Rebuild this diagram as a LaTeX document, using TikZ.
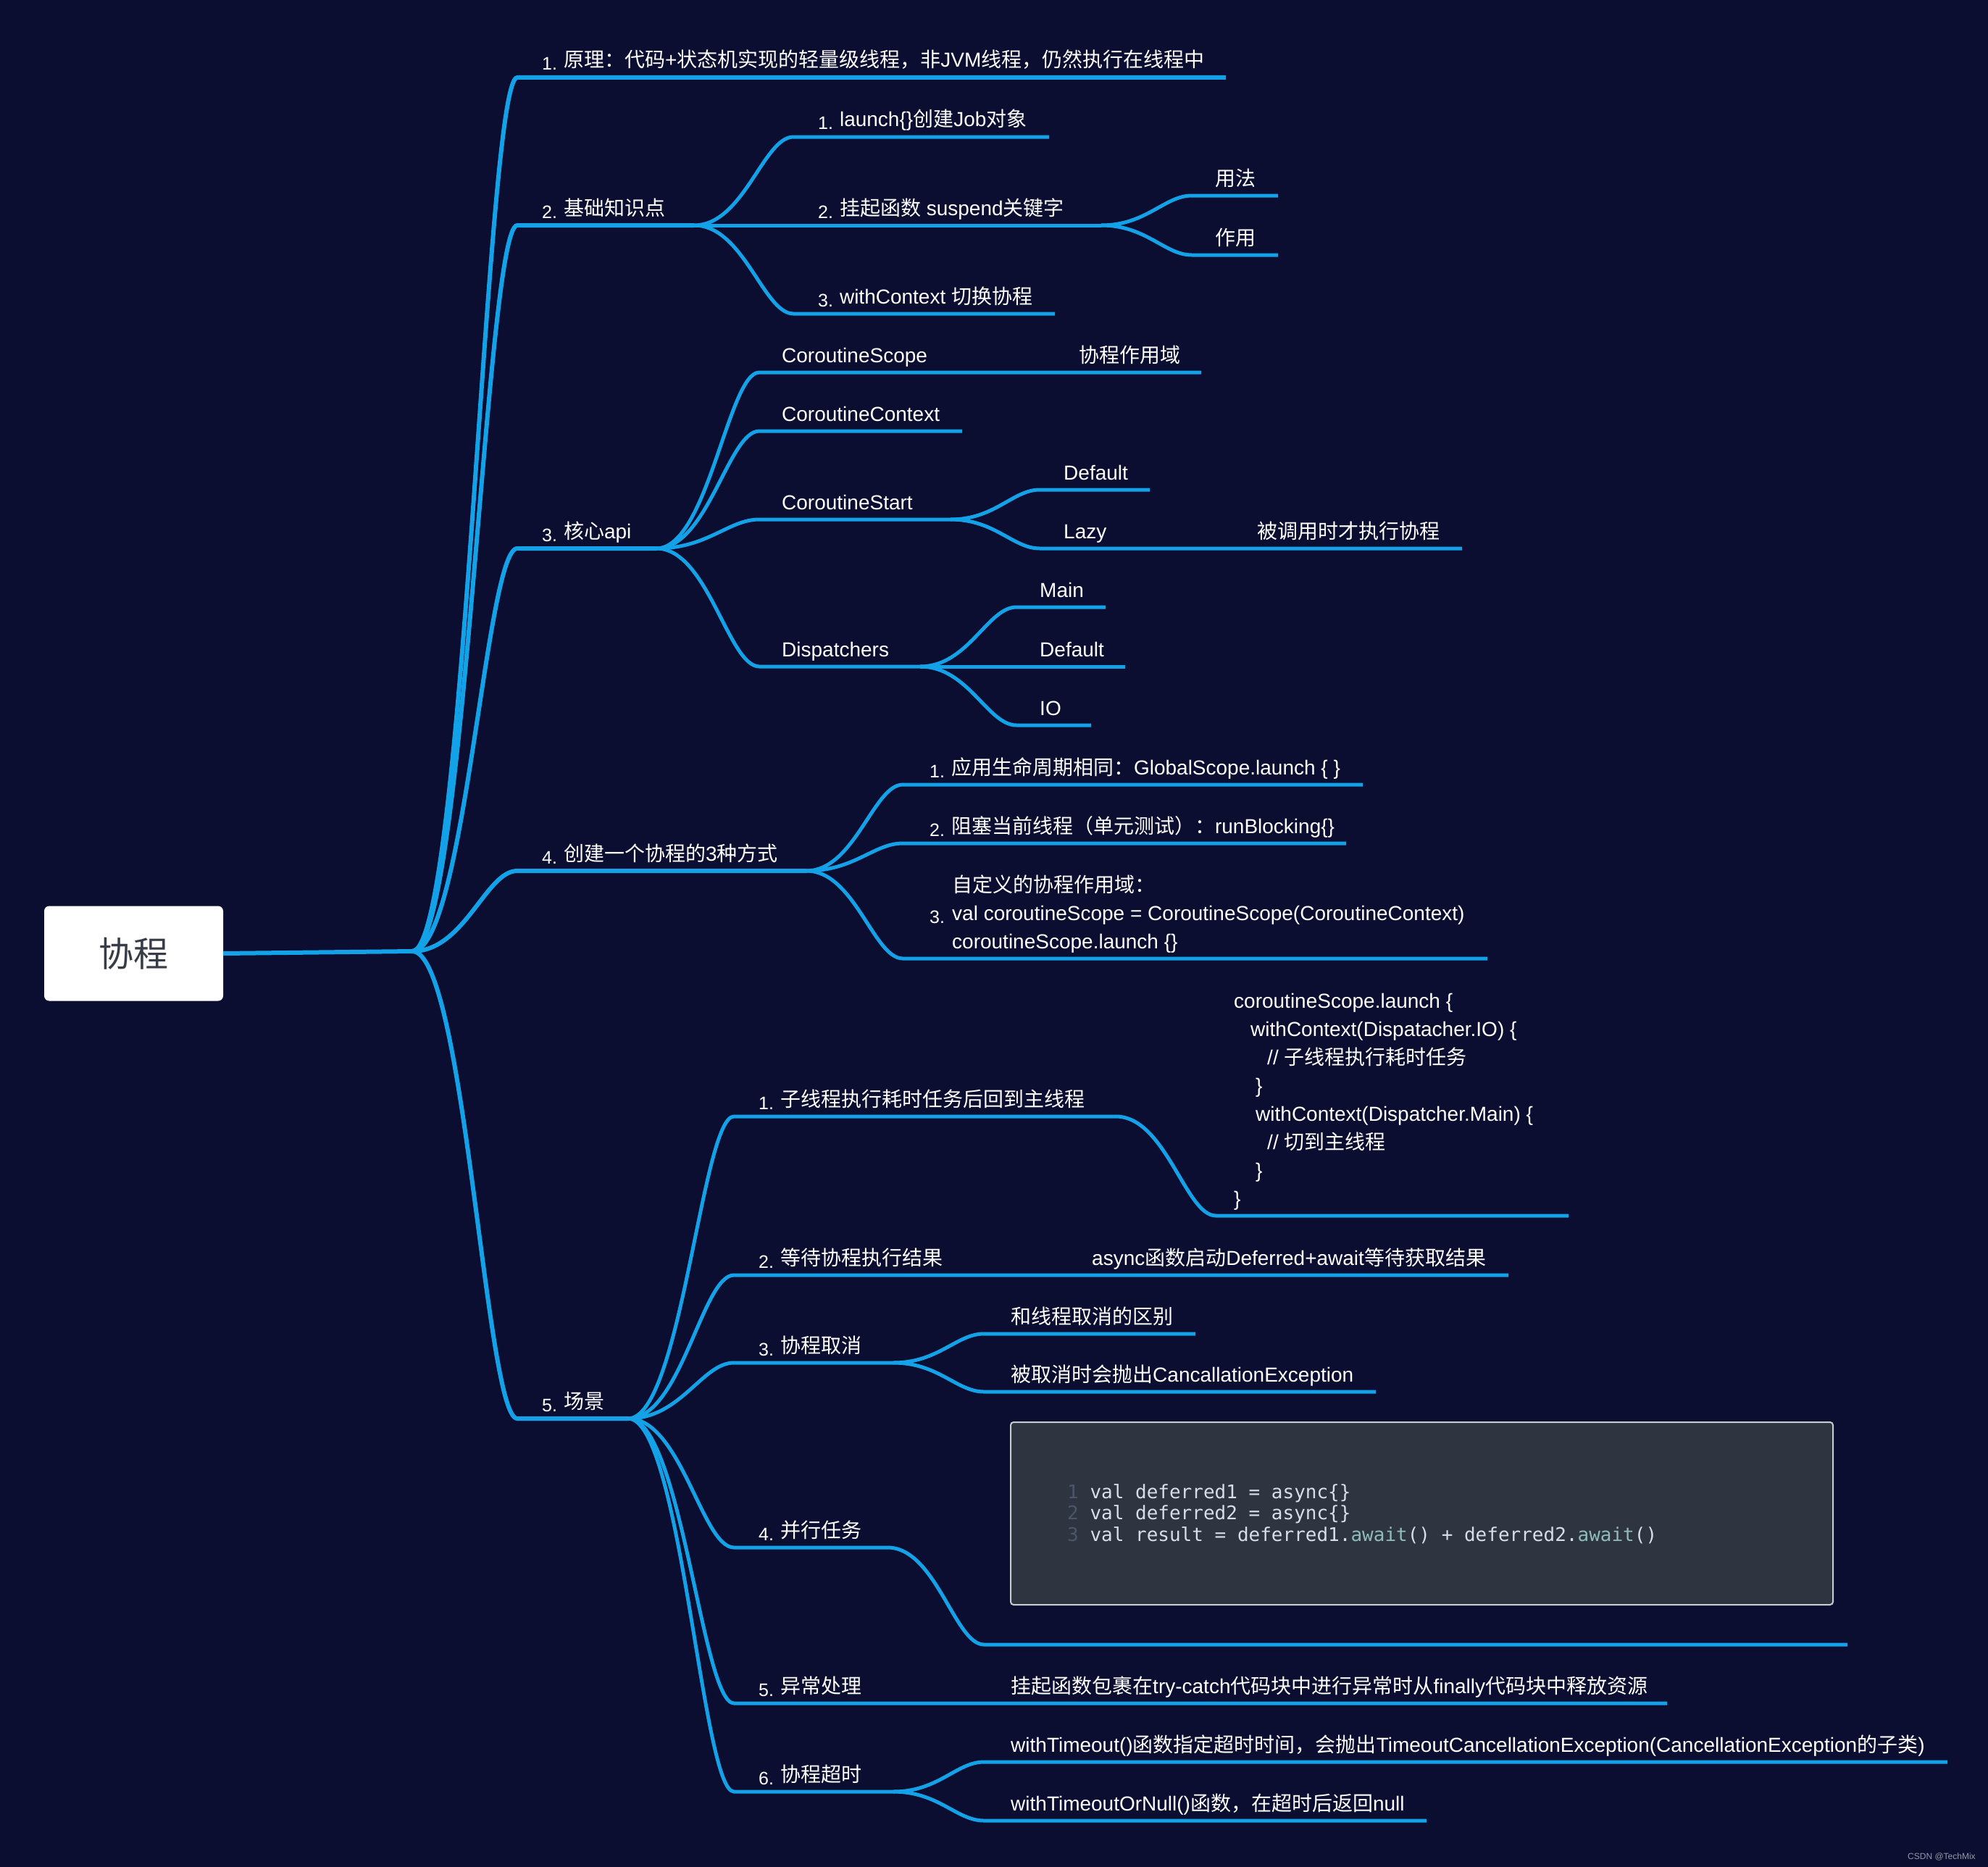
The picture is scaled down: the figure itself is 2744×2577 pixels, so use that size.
\documentclass[tikz,border=0pt]{standalone}
\usepackage{fontspec}
\setmainfont{Liberation Sans}
\newfontfamily\cjkfont{Noto Sans CJK SC}
\newfontfamily\codefont{DejaVu Sans Mono}
\usetikzlibrary{calc}
\XeTeXinterchartokenstate=1
\newXeTeXintercharclass\cjkclass
\makeatletter
\count@="3000
\loop\ifnum\count@<"3040 \XeTeXcharclass\count@=\cjkclass\advance\count@ by 1 \repeat
\count@="4E00
\loop\ifnum\count@<"A000 \XeTeXcharclass\count@=\cjkclass\advance\count@ by 1 \repeat
\count@="FF00
\loop\ifnum\count@<"FFF0 \XeTeXcharclass\count@=\cjkclass\advance\count@ by 1 \repeat
\makeatother
\XeTeXinterchartoks 0 \cjkclass={\cjkfont}
\XeTeXinterchartoks 4095 \cjkclass={\cjkfont}
\XeTeXinterchartoks \cjkclass 0={\rmfamily}
\XeTeXinterchartoks \cjkclass 4095={\rmfamily}
\definecolor{bgc}{RGB}{11,14,48}
\definecolor{lineblue}{RGB}{19,161,232}
\definecolor{roottxt}{RGB}{55,60,70}
\definecolor{codebg}{RGB}{46,52,64}
\definecolor{codeborder}{RGB}{200,204,210}
\definecolor{codefg}{RGB}{216,222,233}
\definecolor{lnum}{RGB}{76,86,106}
\definecolor{kw}{RGB}{143,188,187}
\definecolor{wm}{RGB}{150,152,168}
\newcommand\nlab[1]{\raisebox{-4pt}{\fontsize{25}{25}\selectfont #1}\hspace{9pt}}
\newcommand\mmlink[4]{\draw[#1] let \p1=(#2), \p2=(#3) in (\p1) .. controls ({\x1+0.5*(\x2-\x1)},\y1) and ({\x2-0.3*(\x2-\x1)},\y2) .. (\p2) -- (#4);}
\tikzset{
  lone/.style={draw=lineblue, line width=6pt},
  ltwo/.style={draw=lineblue, line width=5pt},
  lab/.style={text=white, inner sep=0pt, anchor=base west, font=\fontsize{28}{39}\selectfont},
  rootbox/.style={fill=white, rounded corners=7pt, minimum width=247pt, minimum height=131pt, inner sep=0pt, text=roottxt, font=\fontsize{48}{48}\selectfont},
  codeboxst/.style={fill=codebg, draw=codeborder, line width=2pt, rounded corners=4pt, minimum width=1135pt, minimum height=252pt, inner sep=0pt},
  codetxt/.style={text=codefg, inner sep=0pt, anchor=base west, font=\codefont\fontsize{26}{29.5}\selectfont},
}
\begin{document}
\begin{tikzpicture}[x=1pt,y=-1pt]
\useasboundingbox (0,0) rectangle (2744,2577);
\fill[bgc] (0,0) rectangle (2744,2577);

% ---------- coordinates ----------
\coordinate (H0) at (569,1313);
\coordinate (s1) at (714,107);   \coordinate (e1) at (1692,107);
\coordinate (s2) at (714,311);   \coordinate (H2) at (958,311);
\coordinate (s3) at (714,757);   \coordinate (H3) at (906,757);
\coordinate (s4) at (714,1202);  \coordinate (H4) at (1113,1202);
\coordinate (s5) at (714,1958);  \coordinate (H5) at (867,1958);

\coordinate (s21) at (1095,189);  \coordinate (e21) at (1448,189);
\coordinate (s22) at (1095,311);  \coordinate (H22) at (1520,311);
\coordinate (s221) at (1645,270); \coordinate (e221) at (1764,270);
\coordinate (s222) at (1645,352); \coordinate (e222) at (1764,352);
\coordinate (s23) at (1095,433);  \coordinate (e23) at (1456,433);

\coordinate (s31) at (1048,514);  \coordinate (e31) at (1658,514);
\coordinate (s32) at (1048,595);  \coordinate (e32) at (1328,595);
\coordinate (s33) at (1048,717);  \coordinate (H33) at (1312,717);
\coordinate (s331) at (1435,676); \coordinate (e331) at (1587,676);
\coordinate (s332) at (1435,757); \coordinate (e332) at (2018,757);
\coordinate (s34) at (1048,920);  \coordinate (H34) at (1270,920);
\coordinate (s341) at (1403,838); \coordinate (e341) at (1526,838);
\coordinate (s342) at (1403,920); \coordinate (e342) at (1553,920);
\coordinate (s343) at (1403,1001);\coordinate (e343) at (1506,1001);

\coordinate (s41) at (1246,1083); \coordinate (e41) at (1881,1083);
\coordinate (s42) at (1246,1164); \coordinate (e42) at (1858,1164);
\coordinate (s43) at (1246,1323); \coordinate (e43) at (2053,1323);

\coordinate (s51) at (1013,1541); \coordinate (H51) at (1540,1541);
\coordinate (s511) at (1678,1678);\coordinate (e511) at (2165,1678);
\coordinate (s52) at (1013,1760); \coordinate (e52) at (2082,1760);
\coordinate (s53) at (1013,1881); \coordinate (H53) at (1233,1881);
\coordinate (s531) at (1358,1841);\coordinate (e531) at (1650,1841);
\coordinate (s532) at (1358,1921);\coordinate (e532) at (1899,1921);
\coordinate (s54) at (1013,2136); \coordinate (H54) at (1225,2136);
\coordinate (s541) at (1358,2270);\coordinate (e541) at (2550,2270);
\coordinate (s55) at (1013,2351); \coordinate (e55) at (2301,2351);
\coordinate (s56) at (1013,2473); \coordinate (H56) at (1233,2473);
\coordinate (s561) at (1358,2432);\coordinate (e561) at (2688,2432);
\coordinate (s562) at (1358,2513);\coordinate (e562) at (1969,2513);

% ---------- root ----------
\node[rootbox] (root) at (184.5,1316) {协程};
\draw[lone] (root.east) -- (H0);

% ---------- connectors ----------
\mmlink{lone}{H0}{s1}{e1}
\mmlink{lone}{H0}{s2}{H2}
\mmlink{lone}{H0}{s3}{H3}
\mmlink{lone}{H0}{s4}{H4}
\mmlink{lone}{H0}{s5}{H5}

\mmlink{ltwo}{H2}{s21}{e21}
\mmlink{ltwo}{H2}{s22}{H22}
\mmlink{ltwo}{H22}{s221}{e221}
\mmlink{ltwo}{H22}{s222}{e222}
\mmlink{ltwo}{H2}{s23}{e23}

\mmlink{ltwo}{H3}{s31}{e31}
\mmlink{ltwo}{H3}{s32}{e32}
\mmlink{ltwo}{H3}{s33}{H33}
\mmlink{ltwo}{H33}{s331}{e331}
\mmlink{ltwo}{H33}{s332}{e332}
\mmlink{ltwo}{H3}{s34}{H34}
\mmlink{ltwo}{H34}{s341}{e341}
\mmlink{ltwo}{H34}{s342}{e342}
\mmlink{ltwo}{H34}{s343}{e343}

\mmlink{ltwo}{H4}{s41}{e41}
\mmlink{ltwo}{H4}{s42}{e42}
\mmlink{ltwo}{H4}{s43}{e43}

\mmlink{ltwo}{H5}{s51}{H51}
\mmlink{ltwo}{H51}{s511}{e511}
\mmlink{ltwo}{H5}{s52}{e52}
\mmlink{ltwo}{H5}{s53}{H53}
\mmlink{ltwo}{H53}{s531}{e531}
\mmlink{ltwo}{H53}{s532}{e532}
\mmlink{ltwo}{H5}{s54}{H54}
\mmlink{ltwo}{H54}{s541}{e541}
\mmlink{ltwo}{H5}{s55}{e55}
\mmlink{ltwo}{H5}{s56}{H56}
\mmlink{ltwo}{H56}{s561}{e561}
\mmlink{ltwo}{H56}{s562}{e562}

% ---------- level 1 labels ----------
\node[lab] (t1) at (748,93) {\nlab{1.}原理：代码+状态机实现的轻量级线程，非JVM线程，仍然执行在线程中};
\node[lab] (t2) at (748,297) {\nlab{2.}基础知识点};
\node[lab] (t3) at (748,743) {\nlab{3.}核心api};
\node[lab] (t4) at (748,1188) {\nlab{4.}创建一个协程的3种方式};
\node[lab] (t5) at (748,1944) {\nlab{5.}场景};

% ---------- branch 2 ----------
\node[lab] (t21) at (1129,175) {\nlab{1.}launch\{\}创建Job对象};
\node[lab] (t22) at (1129,297) {\nlab{2.}挂起函数 suspend关键字};
\node[lab] (t221) at (1677,256) {用法};
\node[lab] (t222) at (1677,338) {作用};
\node[lab] (t23) at (1129,419) {\nlab{3.}withContext 切换协程};

% ---------- branch 3 ----------
\node[lab] (t31) at (1079,500) {CoroutineScope};
\node[lab] (t31b) at (1489,500) {协程作用域};
\node[lab] (t32) at (1079,581) {CoroutineContext};
\node[lab] (t33) at (1079,703) {CoroutineStart};
\node[lab] (t331) at (1468,662) {Default};
\node[lab] (t332) at (1468,743) {Lazy};
\node[lab] (t332b) at (1735,743) {被调用时才执行协程};
\node[lab] (t34) at (1079,906) {Dispatchers};
\node[lab] (t341) at (1435,824) {Main};
\node[lab] (t342) at (1435,906) {Default};
\node[lab] (t343) at (1435,987) {IO};

% ---------- branch 4 ----------
\node[lab] (t41) at (1283,1069) {\nlab{1.}应用生命周期相同：GlobalScope.launch \{ \}};
\node[lab] (t42) at (1283,1150) {\nlab{2.}阻塞当前线程（单元测试）：runBlocking\{\}};
\node[lab] (t43n) at (1283,1270) {\raisebox{-4pt}{\fontsize{25}{25}\selectfont 3.}};
\node[lab] (t43) at (1314,1309) {\begin{tabular}[b]{@{}l@{}}
自定义的协程作用域：\\
val coroutineScope = CoroutineScope(CoroutineContext)\\
coroutineScope.launch \{\}
\end{tabular}};

% ---------- branch 5 ----------
\node[lab] (t51) at (1047,1527) {\nlab{1.}子线程执行耗时任务后回到主线程};
\node[lab] (t511) at (1703,1664) {\begin{tabular}[b]{@{}l@{}}
coroutineScope.launch \{\\
\hspace*{23pt}withContext(Dispatacher.IO) \{\\
\hspace*{46pt}// 子线程执行耗时任务\\
\hspace*{30pt}\}\\
\hspace*{30pt}withContext(Dispatcher.Main) \{\\
\hspace*{46pt}// 切到主线程\\
\hspace*{30pt}\}\\
\}
\end{tabular}};
\node[lab] (t52) at (1047,1746) {\nlab{2.}等待协程执行结果};
\node[lab] (t52b) at (1507,1746) {async函数启动Deferred+await等待获取结果};
\node[lab] (t53) at (1047,1867) {\nlab{3.}协程取消};
\node[lab] (t531) at (1395,1827) {和线程取消的区别};
\node[lab] (t532) at (1395,1907) {被取消时会抛出CancallationException};
\node[lab] (t54) at (1047,2122) {\nlab{4.}并行任务};
\node[codeboxst] (codebox) at (1962.5,2089) {};
\node[codetxt] (code) at (1473,2068) {\begin{tabular}[t]{@{}l@{}}
\textcolor{lnum}{1} val deferred1 = async\{\}\\
\textcolor{lnum}{2} val deferred2 = async\{\}\\
\textcolor{lnum}{3} val result = deferred1.\textcolor{kw}{await}() + deferred2.\textcolor{kw}{await}()
\end{tabular}};
\node[lab] (t55) at (1047,2337) {\nlab{5.}异常处理};
\node[lab] (t55b) at (1395,2337) {挂起函数包裹在try-catch代码块中进行异常时从finally代码块中释放资源};
\node[lab] (t56) at (1047,2459) {\nlab{6.}协程超时};
\node[lab] (t561) at (1395,2418) {withTimeout()函数指定超时时间，会抛出TimeoutCancellationException(CancellationException的子类)};
\node[lab] (t562) at (1395,2499) {withTimeoutOrNull()函数，在超时后返回null};

% ---------- watermark ----------
\node[inner sep=0pt, anchor=base west, text=wm, font=\fontsize{12}{12}\selectfont] (wmk) at (2633,2566) {CSDN @TechMix};
\end{tikzpicture}
\end{document}
